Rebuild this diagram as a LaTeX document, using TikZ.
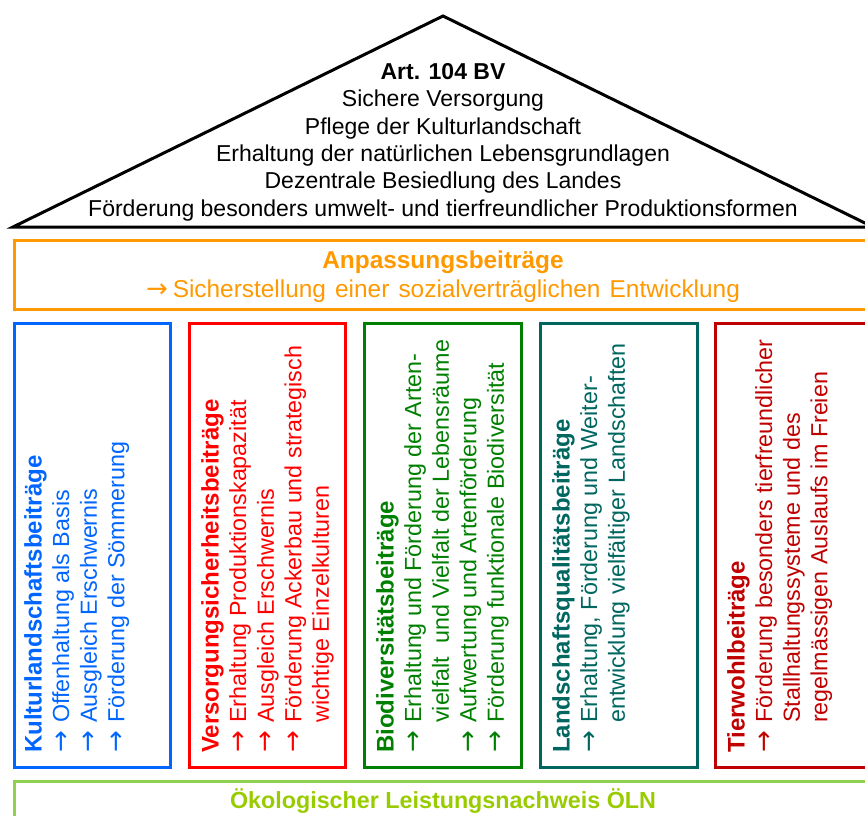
\documentclass[tikz,border=0pt]{standalone}
\usepackage{fontspec}
\setmainfont{Liberation Sans}
\newfontfamily\arrfont{DejaVu Sans}
\definecolor{cOrange}{HTML}{FF9900}
\definecolor{cBlue}{HTML}{0066FF}
\definecolor{cRed}{HTML}{FF0000}
\definecolor{cGreen}{HTML}{008000}
\definecolor{cTeal}{HTML}{006660}
\definecolor{cDarkRed}{HTML}{C00000}
\definecolor{cLine}{HTML}{92D050}
\definecolor{cLeaf}{HTML}{99CC00}
\newcommand{\myarr}{\makebox[30pt][l]{\arrfont\fontsize{26}{26}\selectfont →}}
\newcommand{\myind}{\makebox[30pt][l]{}}
\newcommand{\ctitle}[1]{{\bfseries\fontsize{24}{28}\selectfont #1}}
\tikzset{
  frame/.style={line width=3pt},
  coltext/.style={rotate=90, anchor=north west, inner sep=0pt, align=left,
    font=\fontsize{23.3}{27.6}\selectfont},
}
\begin{document}
\begin{tikzpicture}[x=1pt,y=-1pt]
\clip (0,0) rectangle (865,816);
\fill[white] (0,0) rectangle (865,816);
% roof
\coordinate (tl) at (13,227);
\coordinate (tt) at (443,16);
\coordinate (tr) at (873,227);
\draw[line width=3pt, line join=miter] (tl) -- (tt) -- (tr) -- cycle;
\node[inner sep=0pt, anchor=north, align=center, font=\fontsize{23}{27.4}\selectfont] (roof) at (443,63)
 {\textbf{Art. 104 BV}\\ Sichere Versorgung\\ Pflege der Kulturlandschaft\\ Erhaltung der natürlichen Lebensgrundlagen\\ Dezentrale Besiedlung des Landes\\ Förderung besonders umwelt- und tierfreundlicher Produktionsformen};
% orange
\draw[frame, cOrange] (14,240) rectangle (880,309);
\node[inner sep=0pt, anchor=north, align=center, text=cOrange, font=\fontsize{24.4}{29}\selectfont] (anp) at (443,251)
 {\textbf{Anpassungsbeiträge}\\ \makebox[594pt][s]{{\arrfont\fontsize{26}{26}\selectfont →}\hspace{5pt}Sicherstellung einer sozialverträglichen Entwicklung}};
% columns
\draw[frame, cBlue] (14,323) rectangle (170,767);
\draw[frame, cRed] (189,323) rectangle (345,767);
\draw[frame, cGreen] (364,323) rectangle (521,767);
\draw[frame, cTeal] (540,323) rectangle (697,767);
\draw[frame, cDarkRed] (715,323) rectangle (880,767);
\node[coltext, text=cBlue] (kl) at (24,753)
 {\ctitle{Kulturlandschaftsbeiträge}\\ \myarr Offenhaltung als Basis\\ \myarr Ausgleich Erschwernis\\ \myarr Förderung der Sömmerung};
\node[coltext, text=cRed] (vs) at (201,753)
 {\ctitle{Versorgungsicherheitsbeiträge}\\ \myarr Erhaltung Produktionskapazität\\ \myarr Ausgleich Erschwernis\\ \myarr Förderung Ackerbau und strategisch\\ \myind wichtige Einzelkulturen};
\node[coltext, text=cGreen] (bd) at (376,753)
 {\ctitle{Biodiversitätsbeiträge}\\ \myarr Erhaltung und Förderung der Arten-\\ \myind vielfalt \ und Vielfalt der Lebensräume\\ \myarr Aufwertung und Artenförderung\\ \myarr Förderung funktionale Biodiversität};
\node[coltext, text=cTeal] (lq) at (552,753)
 {\ctitle{Landschaftsqualitätsbeiträge}\\ \myarr Erhaltung, Förderung und Weiter-\\ \myind entwicklung vielfältiger Landschaften};
\node[coltext, text=cDarkRed] (tw) at (727,753)
 {\ctitle{Tierwohlbeiträge}\\ \myarr Förderung besonders tierfreundlicher\\ \myind Stallhaltungssysteme und des\\ \myind regelmässigen Auslaufs im Freien};
% bottom
\draw[frame, cLine] (14,781) rectangle (880,840);
\node[inner sep=0pt, anchor=base, text=cLeaf, font=\bfseries\fontsize{23.3}{28}\selectfont] (oeln) at (443,808)
 {Ökologischer Leistungsnachweis ÖLN};
\end{tikzpicture}
\end{document}
